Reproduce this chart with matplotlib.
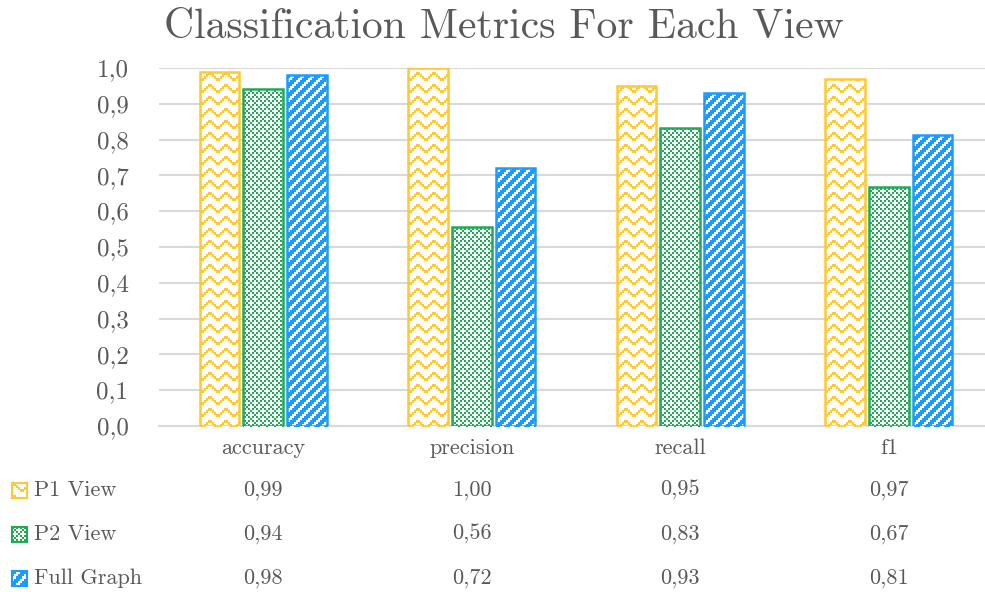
import numpy as np
import matplotlib.pyplot as plt
from matplotlib import transforms

plt.rcParams['font.family'] = ['cmr10', 'DejaVu Serif']
plt.rcParams['axes.formatter.use_mathtext'] = True

metrics = ['accuracy', 'precision', 'recall', 'f1']
series = ['P1 View', 'P2 View', 'Full Graph']
p1_view = [0.99, 1.00, 0.95, 0.97]
p2_view = [0.94, 0.556, 0.833, 0.667]
full_graph = [0.98, 0.722, 0.929, 0.813]
yticks = [0.0, 0.1, 0.2, 0.3, 0.4, 0.5, 0.6, 0.7, 0.8, 0.9, 1.0]

colors = ['#ffc934', '#1fab55', '#1a9bff']
txt = '#595959'
grid_c = '#d9d9d9'

W, H = 985, 592
fig = plt.figure(figsize=(W / 100, H / 100), dpi=100)
ax_l, ax_r, ax_t, ax_b = 159, 993, 68, 426
rect = [ax_l / W, 1 - ax_b / H, (ax_r - ax_l) / W, (ax_b - ax_t) / H]
ax = fig.add_axes(rect, zorder=0)
# second, transparent axes on top for the bar outlines
ax_top = fig.add_axes(rect, zorder=2)
ax_top.axis('off')


def pattern(kind, h, w):
    # boolean mask of the fill pattern, one entry per screen pixel
    yy, xx = np.mgrid[0:h, 0:w]
    if kind == 0:
        # wave
        offs = np.array([0, 0, 1, 2, 3, 3, 2, 1]) * 2
        o = offs[(xx % 16) // 2]
        r = yy % 12
        return (r >= o) & (r < o + 3)
    if kind == 1:
        # small squares leaving white crosses
        cx, cy = (xx // 2) % 4, (yy // 2) % 4
        dots = (cx % 2 == 0) & (cy % 2 == 0)
        return dots | ((cx == 1) & (cy == 1)) | ((cx == 3) & (cy == 3))
    # wide upward diagonal
    return ((xx // 2 + yy // 2) % 5) < 3


def texture(kind, color, h, w):
    rgb = np.array(plt.matplotlib.colors.to_rgb(color))
    img = np.ones((h, w, 3))
    img[pattern(kind, h, w)] = rgb
    return img


width = 0.19
step = 0.21
x = np.arange(len(metrics))
for i, vals in enumerate([p1_view, p2_view, full_graph]):
    xs = x + (i - 1) * step
    bars = ax.bar(xs, vals, width, color='white', edgecolor='none', zorder=3)
    tex = texture(i, colors[i], H, W)
    for b in bars:
        # pixel-exact fill, clipped to the bar
        im = fig.figimage(tex, xo=0, yo=0, origin='upper', zorder=1)
        im.set_clip_path(b)
    ax_top.bar(xs, vals, width, fill=False, edgecolor=colors[i], linewidth=1.8)

for a in (ax, ax_top):
    a.set_xlim(-0.5, 3.5)
    a.set_ylim(0, 1.0)
ax.set_yticks(yticks)
ax.set_yticklabels([f'{t:.1f}'.replace('.', ',') for t in yticks], fontsize=18, color=txt)
ax.set_xticks([])
ax.tick_params(axis='y', length=0, pad=22)
ax.yaxis.grid(True, color=grid_c, linewidth=1.5, zorder=0)
ax.set_axisbelow(True)
for s in ['top', 'right', 'left']:
    ax.spines[s].set_visible(False)
ax.spines['bottom'].set_color(grid_c)
ax.spines['bottom'].set_linewidth(1.5)

fig.text(0.512, 1 - 27 / H, 'Classification Metrics For Each View',
         ha='center', va='center', fontsize=30, color=txt)

# data table under the axis
tr = transforms.blended_transform_factory(ax.transData, fig.transFigure)
for j, m in enumerate(metrics):
    fig.text(j, 1 - 448 / H, m, transform=tr, ha='center', va='center',
             fontsize=16, color=txt)

rows_y = [490, 534, 578]
for i, (name, vals) in enumerate(zip(series, [p1_view, p2_view, full_graph])):
    yc = rows_y[i]
    kax = fig.add_axes([12 / W, 1 - (yc + 8) / H, 15 / W, 15 / H])
    kax.imshow(texture(i, colors[i], 15, 15), interpolation='nearest', aspect='auto')
    kax.set_xticks([])
    kax.set_yticks([])
    for s in kax.spines.values():
        s.set_color(colors[i])
        s.set_linewidth(1.5)
    fig.text(34 / W, 1 - yc / H, name, ha='left', va='center', fontsize=16, color=txt)
    for j, v in enumerate(vals):
        fig.text(j, 1 - yc / H, f'{v:.2f}'.replace('.', ','), transform=tr,
                 ha='center', va='center', fontsize=16, color=txt)

fig.savefig('out.png', dpi=100)
